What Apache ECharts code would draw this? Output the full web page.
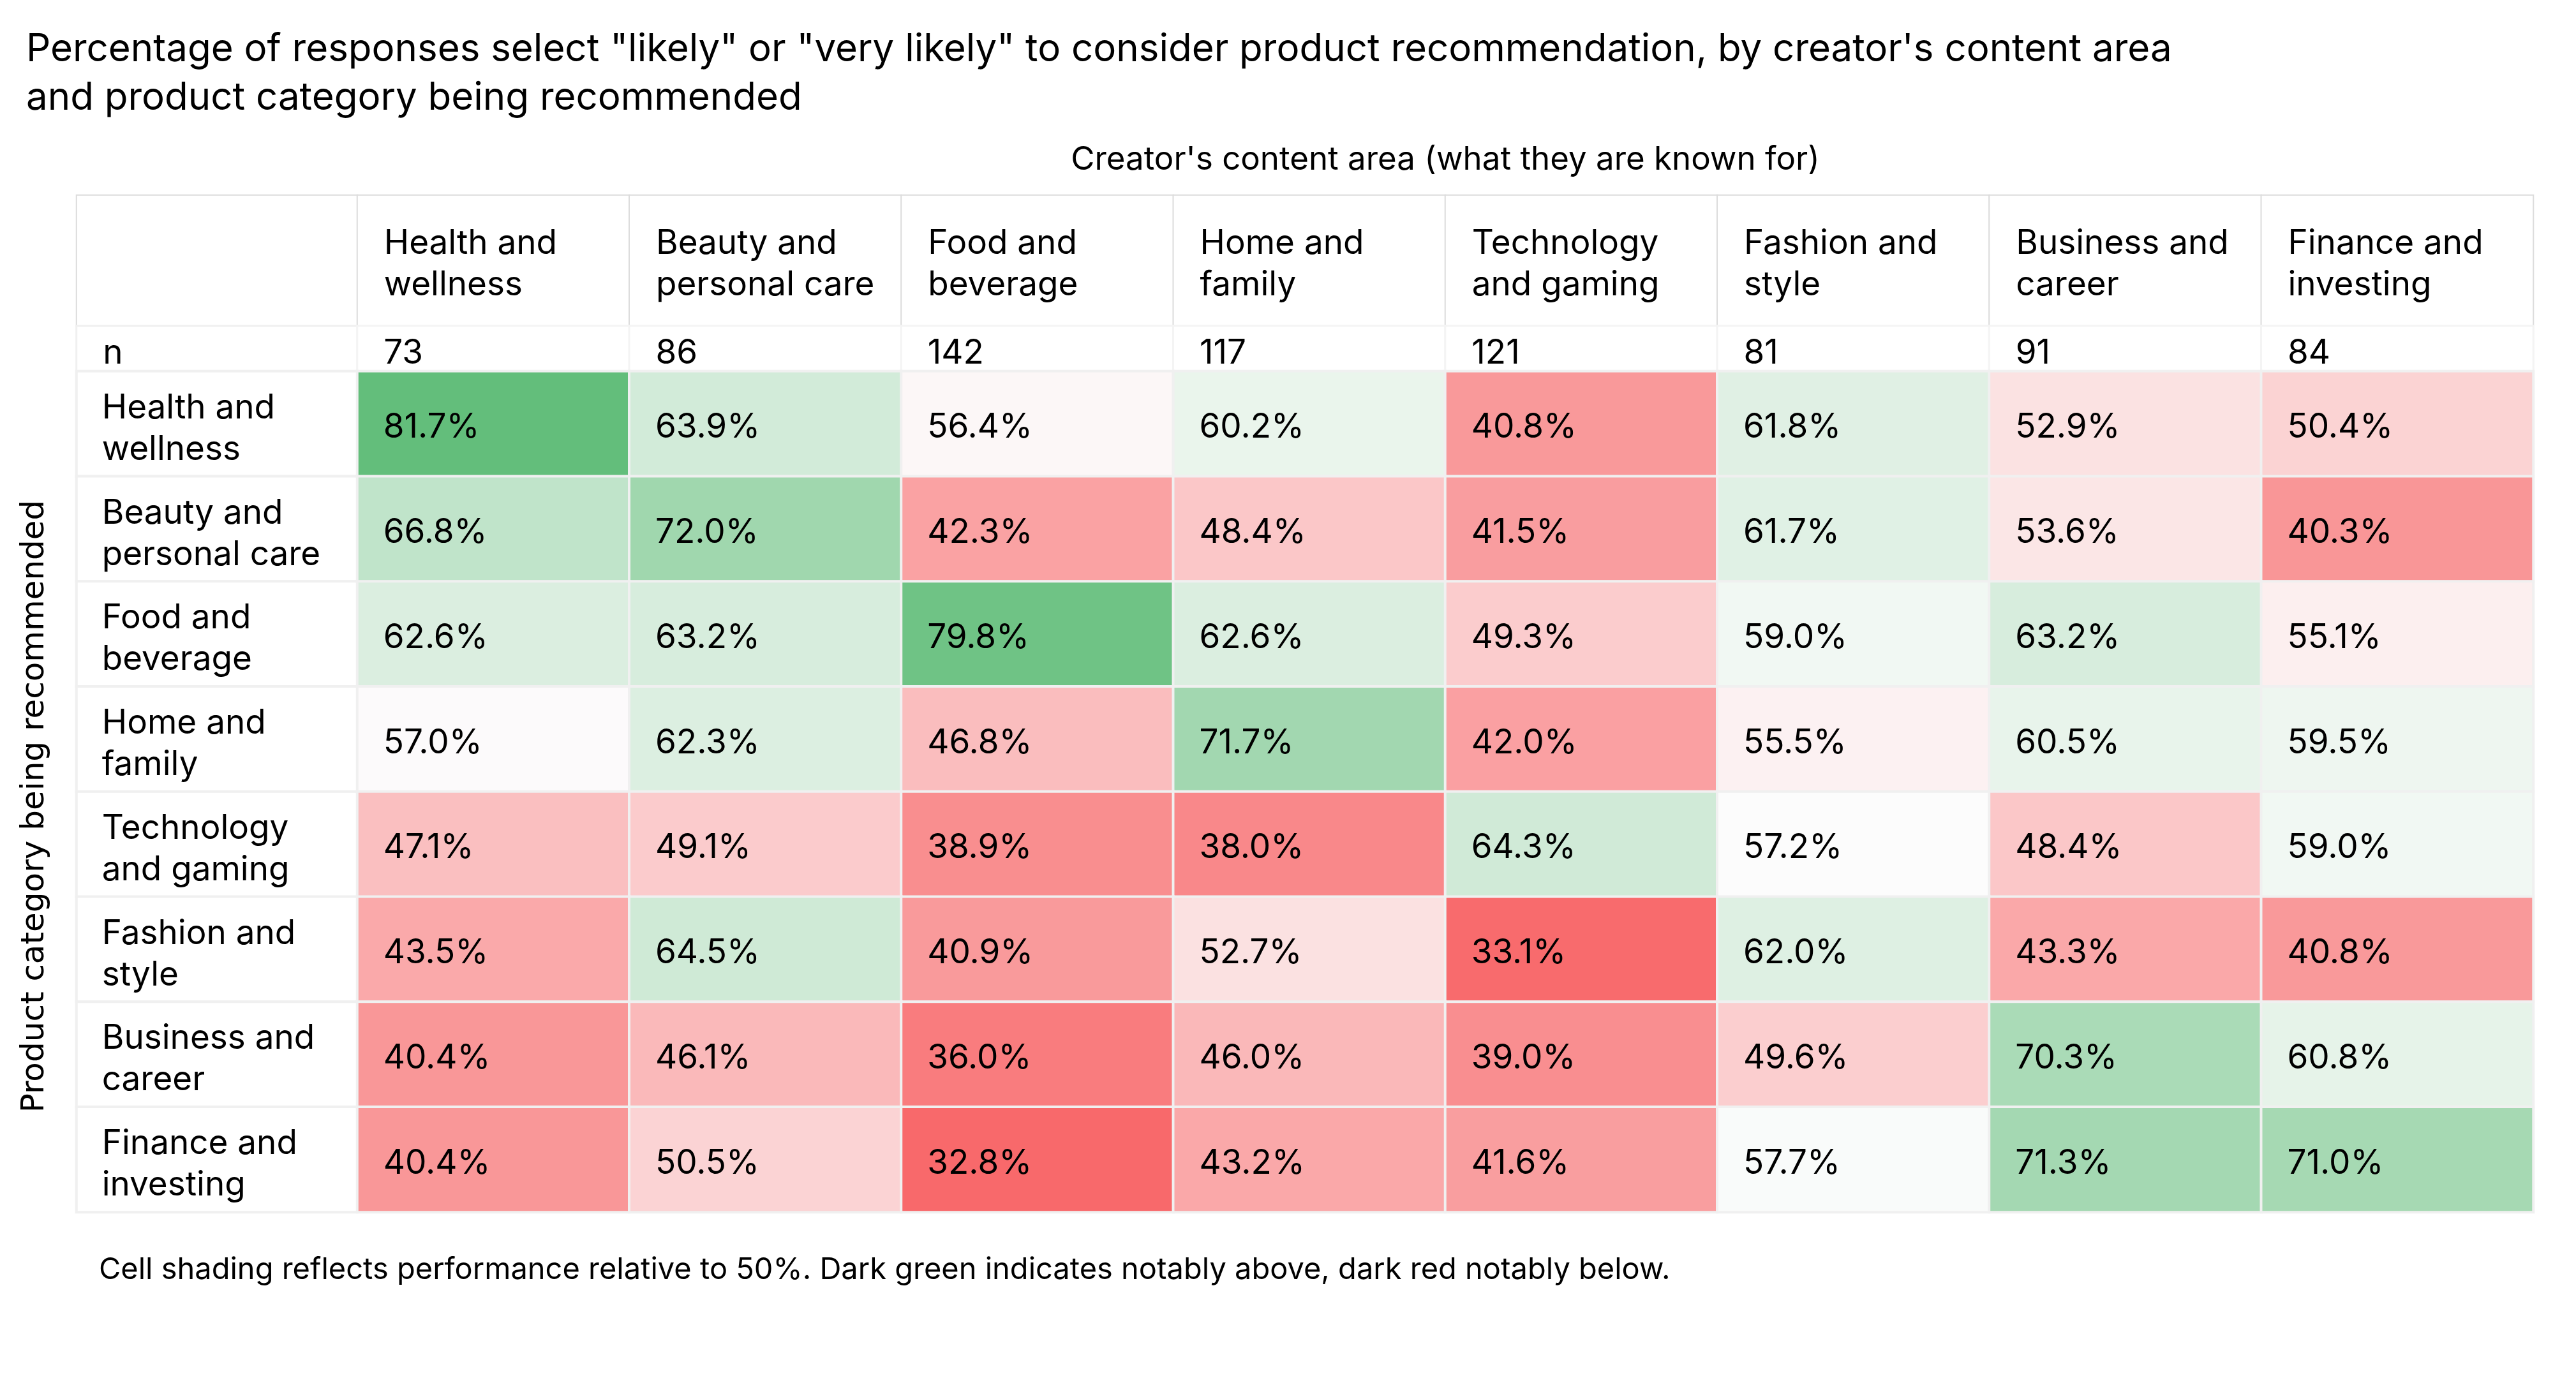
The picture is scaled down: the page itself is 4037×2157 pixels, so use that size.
<!DOCTYPE html>
<html>
<head>
<meta charset="utf-8">
<script src="https://cdn.jsdelivr.net/npm/echarts@6/dist/echarts.min.js"></script>
<style>
html,body{margin:0;padding:0;background:#ffffff;}
#main{width:4037px;height:2157px;}
</style>
</head>
<body>
<div id="main"></div>
<script>
// ---------- data ----------
const creatorAreas = ["Health and wellness","Beauty and personal care","Food and beverage","Home and family","Technology and gaming","Fashion and style","Business and career","Finance and investing"];
const productCategories = ["Health and wellness","Beauty and personal care","Food and beverage","Home and family","Technology and gaming","Fashion and style","Business and career","Finance and investing"];
const sampleSizes = [73, 86, 142, 117, 121, 81, 91, 84];

const healthWellness    = [81.7, 63.9, 56.4, 60.2, 40.8, 61.8, 52.9, 50.4];
const beautyPersonal    = [66.8, 72.0, 42.3, 48.4, 41.5, 61.7, 53.6, 40.3];
const foodBeverage      = [62.6, 63.2, 79.8, 62.6, 49.3, 59.0, 63.2, 55.1];
const homeFamily        = [57.0, 62.3, 46.8, 71.7, 42.0, 55.5, 60.5, 59.5];
const technologyGaming  = [47.1, 49.1, 38.9, 38.0, 64.3, 57.2, 48.4, 59.0];
const fashionStyle      = [43.5, 64.5, 40.9, 52.7, 33.1, 62.0, 43.3, 40.8];
const businessCareer    = [40.4, 46.1, 36.0, 46.0, 39.0, 49.6, 70.3, 60.8];
const financeInvesting  = [40.4, 50.5, 32.8, 43.2, 41.6, 57.7, 71.3, 71.0];
const rowValues = [healthWellness, beautyPersonal, foodBeverage, homeFamily, technologyGaming, fashionStyle, businessCareer, financeInvesting];

const titleText = 'Percentage of responses select "likely" or "very likely" to consider product recommendation, by creator\'s content area\nand product category being recommended';
const xAxisTitle = "Creator's content area (what they are known for)";
const yAxisTitle = "Product category being recommended";
const nLabel = "n";
const footnote = "Cell shading reflects performance relative to 50%. Dark green indicates notably above, dark red notably below.";

// ---------- build ----------
const FONT = 'Inter';
const LABEL_SIZE = 53;
const cellData = [];
rowValues.forEach((row, j) => row.forEach((v, i) => cellData.push([i, j, v])));
const allVals = cellData.map(d => d[2]);
const vMin = Math.min.apply(null, allVals);
const vMax = Math.max.apply(null, allVals);

// greedy word wrap measured with the label font
const measureCtx = document.createElement('canvas').getContext('2d');
function wrap(text, maxWidth) {
  measureCtx.font = LABEL_SIZE + 'px ' + FONT;
  const words = text.split(' ');
  const lines = [];
  let cur = '';
  words.forEach(w => {
    const test = cur ? cur + ' ' + w : w;
    if (cur && measureCtx.measureText(test).width > maxWidth) { lines.push(cur); cur = w; }
    else cur = test;
  });
  if (cur) lines.push(cur);
  return lines.join('\n');
}

const hidden = {axisLine:{show:false}, axisTick:{show:false}, axisLabel:{show:false}, splitLine:{show:false}};
function catAxis(gridIndex, data, extra) {
  return Object.assign({type:'category', gridIndex, data}, hidden, extra || {});
}
const textLabel = {
  show: true, position: 'insideLeft', distance: 43, offset: [0, 6],
  fontFamily: FONT, fontSize: LABEL_SIZE, color: '#000', lineHeight: 65
};

const chart = echarts.init(document.getElementById('main'), null, {renderer:'canvas'});
chart.setOption({
  backgroundColor: '#ffffff',
  animation: false,
  title: [
    {text: titleText, left: 41, top: 40, padding: 0,
     textStyle: {fontFamily: FONT, fontSize: 60, fontWeight: 'normal', color: '#000', lineHeight: 76}},
    {text: footnote, left: 155, top: 1963, padding: 0,
     textStyle: {fontFamily: FONT, fontSize: 47, fontWeight: 'normal', color: '#000', lineHeight: 56}}
  ],
  grid: [
    {left:120, top:306, width:440, height:205},
    {left:560, top:306, width:3410, height:205},
    {left:120, top:511, width:440, height:71},
    {left:560, top:511, width:3410, height:71},
    {left:120, top:582, width:440, height:1318},
    {left:560, top:582, width:3410, height:1318}
  ],
  xAxis: [
    catAxis(0, ['']),
    catAxis(1, creatorAreas, {position:'top', name: xAxisTitle, nameLocation:'middle', nameGap: 30,
      nameTextStyle:{fontFamily: FONT, fontSize: 51, color:'#000'}}),
    catAxis(2, ['']),
    catAxis(3, creatorAreas),
    catAxis(4, ['']),
    catAxis(5, creatorAreas)
  ],
  yAxis: [
    catAxis(0, ['']),
    catAxis(1, ['']),
    catAxis(2, [nLabel]),
    catAxis(3, [nLabel]),
    catAxis(4, productCategories, {inverse:true}),
    catAxis(5, productCategories, {inverse:true})
  ],
  visualMap: {
    type: 'continuous', show: false, seriesIndex: 5, dimension: 2,
    min: vMin, max: vMax,
    inRange: {color: ['#F8696B', '#FCFCFC', '#63BE7B']}
  },
  graphic: [
    {type:'text', x: 55, y: 1264, rotation: Math.PI / 2,
     style:{text: yAxisTitle, font: '50px "DejaVu Sans"', fill:'#000', align:'center', verticalAlign:'middle'}}
  ],
  series: [
    {type:'heatmap', xAxisIndex:0, yAxisIndex:0, data:[[0,0,0]],
     itemStyle:{color:'#fff', borderColor:'#dcdcdc', borderWidth:2},
     label:{show:false}, emphasis:{disabled:true}},
    {type:'heatmap', xAxisIndex:1, yAxisIndex:1, data: creatorAreas.map((c,i)=>[i,0,0]),
     itemStyle:{color:'#fff', borderColor:'#dcdcdc', borderWidth:2},
     label: Object.assign({}, textLabel, {formatter: p => wrap(creatorAreas[p.value[0]], 370)}),
     emphasis:{disabled:true}},
    {type:'heatmap', xAxisIndex:2, yAxisIndex:2, data:[[0,0,0]],
     itemStyle:{color:'#fff', borderColor:'#f0f0f0', borderWidth:3},
     label: Object.assign({}, textLabel, {offset:[0, 8], formatter: () => nLabel}),
     emphasis:{disabled:true}},
    {type:'heatmap', xAxisIndex:3, yAxisIndex:3, data: sampleSizes.map((n,i)=>[i,0,n]),
     itemStyle:{color:'#fff', borderColor:'#f4f4f4', borderWidth:3},
     label: Object.assign({}, textLabel, {offset:[0, 8], formatter: p => String(p.value[2])}),
     emphasis:{disabled:true}},
    {type:'heatmap', xAxisIndex:4, yAxisIndex:4, data: productCategories.map((c,j)=>[0,j,0]),
     itemStyle:{color:'#fff', borderColor:'#f0f0f0', borderWidth:4},
     label: Object.assign({}, textLabel, {distance: 42, offset:[0, 8], formatter: p => wrap(productCategories[p.value[1]], 370)}),
     emphasis:{disabled:true}},
    {type:'heatmap', xAxisIndex:5, yAxisIndex:5, data: cellData,
     itemStyle:{borderColor:'#f0f0f0', borderWidth:4},
     label: Object.assign({}, textLabel, {formatter: p => p.value[2].toFixed(1) + '%'}),
     emphasis:{disabled:true}}
  ]
});
</script>
</body>
</html>
